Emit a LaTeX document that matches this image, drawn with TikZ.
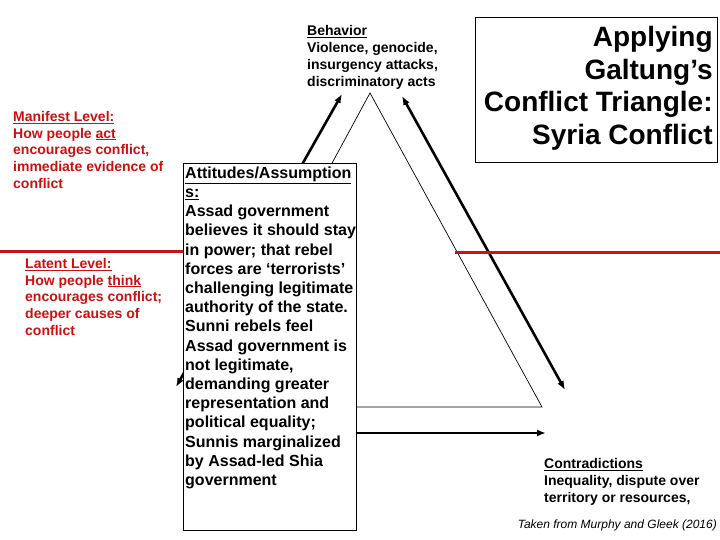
\documentclass[tikz,border=0pt]{standalone}
\usepackage{fontspec}
\setmainfont{Liberation Sans}
\usetikzlibrary{positioning}
\usetikzlibrary{arrows.meta}
\usetikzlibrary{backgrounds}

\definecolor{levelred}{RGB}{204,16,16}
\definecolor{linered}{RGB}{196,22,22}

\tikzset{
  twoway/.style = {black, line width = 2.6pt, {Latex[length = 9pt, width = 7pt]}-{Latex[length = 9pt, width = 7pt]}},
  sideline/.style = {black, line width = 0.7pt},
  levelline/.style = {linered, line width = 3pt},
  smalltext/.style = {inner sep = 0pt, anchor = north west, align = left, font = \fontsize{14}{17}\selectfont\bfseries},
  leveltext/.style = {smalltext, text = levelred, font = \fontsize{14}{16.75}\selectfont\bfseries},
  boxtext/.style = {inner sep = 0pt, anchor = north west, align = left, font = \fontsize{16}{19.2}\selectfont\bfseries},
  framebox/.style = {draw, fill = white, line width = 0.8pt, inner sep = 0pt, anchor = north west}
}

\begin{document}
\begin{tikzpicture}[x = 1pt, y = -1pt]
	\useasboundingbox (0, 0) rectangle (720, 540);
	% boxes
	\node [framebox, minimum width = 242pt, minimum height = 145pt] (titlebox) at (475, 17) {};
	\node [anchor = north east, inner sep = 0pt, align = right, font = \fontsize{28}{32.5}\selectfont\bfseries] (title) at ([xshift = -5pt, yshift = -9.5pt] titlebox.north east) {Applying\\Galtung’s\\Conflict Triangle:\\Syria Conflict};
	\node [framebox, minimum width = 173pt, minimum height = 367pt] (attbox) at (183, 163) {};
	\node [boxtext] (attitudes) at ([xshift = 2pt, yshift = -3.5pt] attbox.north west) {\underline{Attitudes/Assumption}\\\underline{s:}\\Assad government\\believes it should stay\\in power; that rebel\\forces are ‘terrorists’\\challenging legitimate\\authority of the state.\\Sunni rebels feel\\Assad government is\\not legitimate,\\demanding greater\\representation and\\political equality;\\Sunnis marginalized\\by Assad-led Shia\\government};
	% corner texts
	\node [smalltext] (behavior) at (307, 25) {\underline{Behavior}\\Violence, genocide,\\insurgency attacks,\\discriminatory acts};
	\node [smalltext] (contra) at (544, 458) {\underline{Contradictions}\\Inequality, dispute over\\territory or resources,};
	\node [leveltext] (manifest) at (13, 111) {\underline{Manifest Level:}\\How people \underline{act}\\encourages conflict,\\immediate evidence of\\conflict};
	\node [leveltext] (latent) at (25, 258) {\underline{Latent Level:}\\How people \underline{think}\\encourages conflict;\\deeper causes of\\conflict};
	\node [anchor = base east, inner sep = 0pt, font = \fontsize{12}{14}\selectfont\itshape] (source) at (717, 528) {Taken from Murphy and Gleek (2016)};
	% triangle, arrows and level lines under the boxes
	\begin{scope}[on background layer]
		\coordinate (apex) at (370, 93);
		\coordinate (baseL) at (200, 407);
		\coordinate (baseR) at (542, 407);
		\draw [sideline] (baseL) -- (apex) -- (baseR) -- cycle;
		\coordinate (behL) at (342, 94);
		\coordinate (attL) at (176, 387);
		\coordinate (behR) at (402, 96);
		\coordinate (conR) at (565, 390);
		\coordinate (attB) at (192, 433);
		\coordinate (conB) at (546, 433);
		\draw [twoway] (attL) -- (behL);
		\draw [twoway] (conR) -- (behR);
		\draw [twoway] (attB) -- (conB);
		\coordinate (lvL) at (0, 251);
		\coordinate (lvR) at (455, 252);
		\draw [levelline] (lvL) -- (lvL -| attbox.west);
		\draw [levelline] (lvR) -- (720, 252);
	\end{scope}
\end{tikzpicture}
\end{document}
